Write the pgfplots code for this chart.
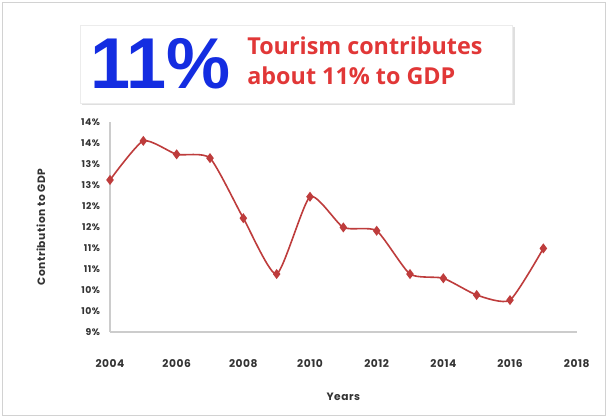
\documentclass[border=0pt]{standalone}
\usepackage{pgfplots}
\pgfplotsset{compat=1.18}
\usepackage{fontspec}
\setmainfont{Open Sans}
\newfontfamily\tickfont[LetterSpace=5]{Poppins}
\newfontfamily\bigfont{Liberation Sans}
\definecolor{linered}{RGB}{190,60,60}
\definecolor{bigblue}{RGB}{20,45,225}
\definecolor{txtred}{RGB}{225,55,55}
\begin{document}
\begin{tikzpicture}[x=1pt,y=1pt]
\fill[white] (0,0) rectangle (456,313.5);
\draw[gray!35,line width=0.8pt] (2,2) rectangle (454,311.5);
% title box
\fill[gray!25] (61.5,234.5) rectangle (386,293);
\fill[white] (60,236.25) rectangle (384,294.75);
\draw[gray!15] (60,236.25) rectangle (384,294.75);
\node[font=\bigfont\bfseries\fontsize{54}{54}\selectfont,text=bigblue] at (120.5,265.5) {11\%};
\node[anchor=west,font=\bfseries\fontsize{17.5}{22}\selectfont,text=txtred,align=left] at (182,268) {Tourism contributes\\about 11\% to GDP};
\begin{axis}[
  at={(82.5pt,64.5pt)}, anchor=south west,
  scale only axis, width=350pt, height=157.5pt,
  xmin=2004, xmax=2018, ymin=9, ymax=14,
  xtick={2004,2006,...,2018},
  ytick={9,9.5,...,14},
  yticklabels={9\%,10\%,10\%,11\%,11\%,12\%,12\%,13\%,13\%,14\%,14\%},
  xticklabel style={/pgf/number format/1000 sep={},font=\tickfont\bfseries\fontsize{8}{8}\selectfont,text=black!80,yshift=-17pt},
  yticklabel style={font=\tickfont\bfseries\fontsize{7}{7}\selectfont,text=black!80,xshift=-4pt},
  /pgf/number format/assume math mode=true,
  axis x line*=bottom, axis y line*=left,
  axis line style={gray!40,line width=0.8pt},
  tick style={draw=none},
  xlabel={Years}, ylabel={Contribution to GDP},
  xlabel style={font=\tickfont\bfseries\fontsize{8}{8}\selectfont,text=black!80,yshift=-12.5pt},
  ylabel style={font=\tickfont\bfseries\fontsize{8}{8}\selectfont,text=black!80,yshift=20pt},
  clip=false,
]
\addplot[linered, line width=1.2pt, smooth, tension=0.35, mark=diamond*, mark size=2.8pt, mark options={fill=linered}]
coordinates {
(2004,12.62) (2005,13.55) (2006,13.23) (2007,13.14) (2008,11.71) (2009,10.38)
(2010,12.22) (2011,11.49) (2012,11.41) (2013,10.38) (2014,10.28) (2015,9.88)
(2016,9.76) (2017,10.99)
};
\end{axis}
\end{tikzpicture}
\end{document}
